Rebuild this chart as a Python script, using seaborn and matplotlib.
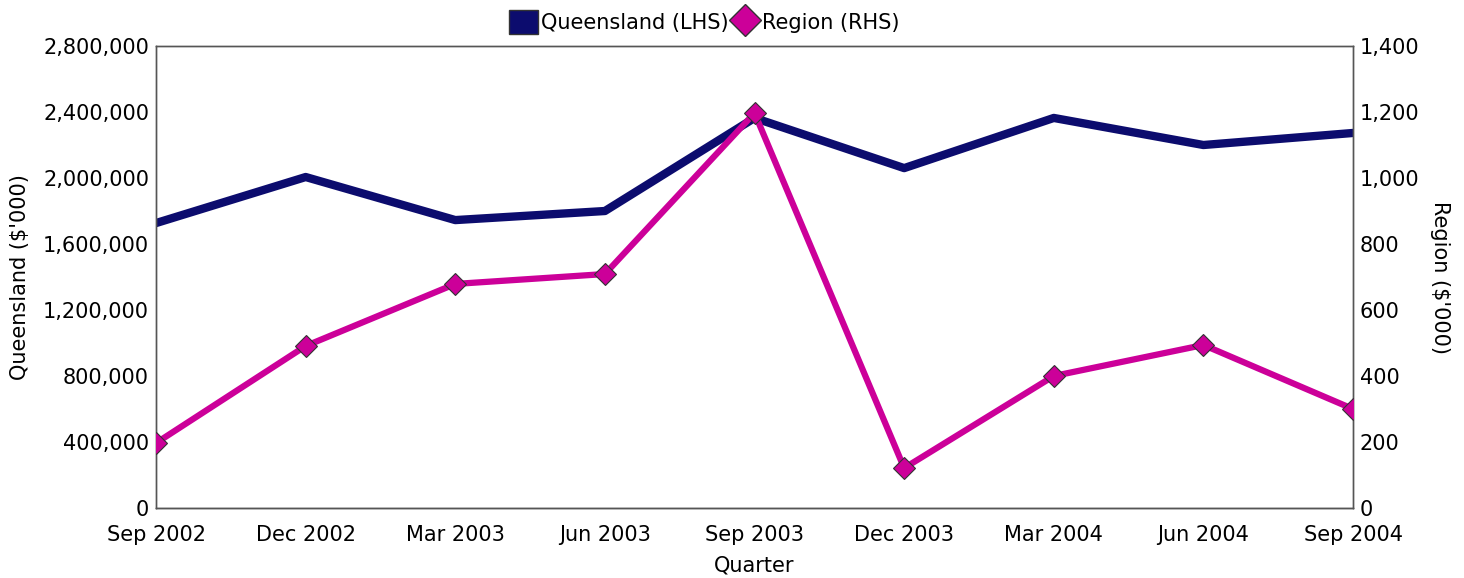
import matplotlib
matplotlib.use("Agg")
import matplotlib.pyplot as plt
import seaborn as sns
import pandas as pd
import numpy as np
from matplotlib.lines import Line2D
from matplotlib.patches import Patch
from matplotlib.ticker import FuncFormatter, MultipleLocator

quarters = ["Sep 2002", "Dec 2002", "Mar 2003", "Jun 2003", "Sep 2003",
            "Dec 2003", "Mar 2004", "Jun 2004", "Sep 2004"]
queensland = [1727000, 2006000, 1745000, 1800000, 2364000, 2060000, 2364000, 2200000, 2273000]
region = [197, 491, 679, 709, 1197, 121, 400, 494, 300]

sns.set_theme(style="white")
plt.rcParams['font.family'] = ['DejaVu Sans']

df = pd.DataFrame({"idx": np.arange(len(quarters)), "Quarter": quarters,
                   "Queensland": queensland, "Region": region})

fig = plt.figure(figsize=(14.64, 5.78), dpi=100)
ax = fig.add_axes([0.1066, 0.1211, 0.8176, 0.7993])
ax2 = ax.twinx()

navy = "#0c0c6e"
mag = "#cc0099"
txt = "#000000"

sns.lineplot(data=df, x="idx", y="Queensland", ax=ax, color=navy, linewidth=6, zorder=2)
sns.lineplot(data=df, x="idx", y="Region", ax=ax2, color=mag, linewidth=4.5,
             marker="D", markersize=11, markerfacecolor=mag, markeredgecolor="#333333",
             markeredgewidth=0.8, zorder=3)

ax.set_xlim(0, 8)
ax.set_ylim(0, 2800000)
ax2.set_ylim(0, 1400)
ax.yaxis.set_major_locator(MultipleLocator(400000))
ax2.yaxis.set_major_locator(MultipleLocator(200))
ax.yaxis.set_major_formatter(FuncFormatter(lambda v, p: f"{int(v):,}"))
ax2.yaxis.set_major_formatter(FuncFormatter(lambda v, p: f"{int(v):,}"))
ax.set_xticks(df["idx"])
ax.set_xticklabels(quarters)

fs = 15
ax.tick_params(axis="y", labelsize=fs, length=0, pad=5, colors=txt)
ax.tick_params(axis="x", labelsize=fs, length=0, pad=12, colors=txt)
ax2.tick_params(axis="y", labelsize=fs, length=0, pad=5, colors=txt)
ax.set_xlabel("Quarter", fontsize=fs, labelpad=8, color=txt)
ax.set_ylabel("Queensland ($'000)", fontsize=fs, labelpad=9, color=txt)
ax2.set_ylabel("Region ($'000)", fontsize=fs, rotation=270, labelpad=22, color=txt)

for a in (ax, ax2):
    for s in a.spines.values():
        s.set_color("#555555")
        s.set_linewidth(1)
ax.spines["bottom"].set_color("#111111")
ax.grid(False)
ax2.grid(False)

handles = [Patch(facecolor=navy, edgecolor="#333333", label="Queensland (LHS)"),
           Line2D([], [], color="none", marker="D", markersize=16, markerfacecolor=mag,
                  markeredgecolor="#333333", label="Region (RHS)")]
fig.legend(handles=handles, loc="upper center", bbox_to_anchor=(0.481, 1.0), ncol=2,
           frameon=False, fontsize=fs, handlelength=1.4, handleheight=1.4,
           handletextpad=0.1, columnspacing=0.1, borderaxespad=0.1,
           labelcolor=txt)

fig.savefig("out.png", dpi=100)
